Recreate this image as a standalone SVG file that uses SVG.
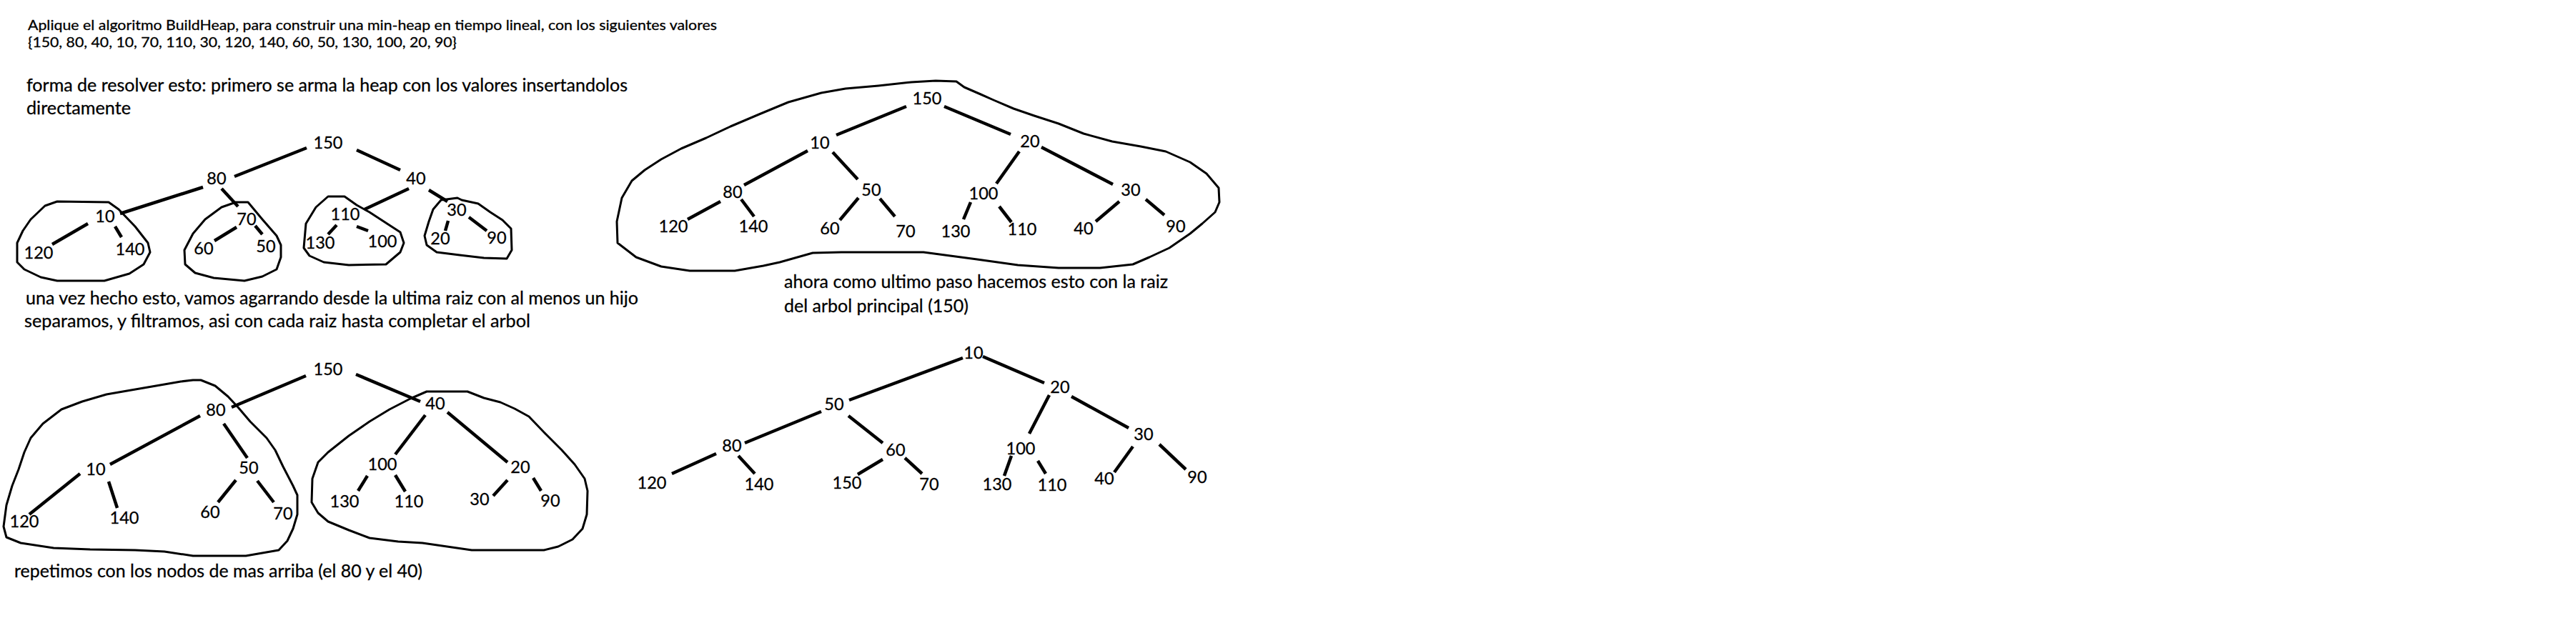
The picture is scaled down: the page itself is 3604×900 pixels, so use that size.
<svg xmlns="http://www.w3.org/2000/svg" width="3604" height="900" viewBox="0 0 3604 900">
<style>
text{font-family:Lato,"Open Sans","Liberation Sans",sans-serif;fill:#000;stroke:#000;stroke-width:0.3}
.n{font-size:23.5px;text-anchor:middle}
.h{font-size:20px}
.b{font-size:25px}
.e{stroke:#000;stroke-width:4.5;fill:none}
.g{stroke:#000;stroke-width:3;fill:none;stroke-linejoin:round}
</style>
<rect width="3604" height="900" fill="#fff"/>
<g id="texts">
<text class="h" x="39" y="42" textLength="964" lengthAdjust="spacingAndGlyphs">Aplique el algoritmo BuildHeap, para construir una min-heap en tiempo lineal, con los siguientes valores</text>
<text class="h" x="39" y="66" textLength="600" lengthAdjust="spacingAndGlyphs">{150, 80, 40, 10, 70, 110, 30, 120, 140, 60, 50, 130, 100, 20, 90}</text>
<text class="b" x="37" y="128" textLength="841" lengthAdjust="spacingAndGlyphs">forma de resolver esto: primero se arma la heap con los valores insertandolos</text>
<text class="b" x="37" y="160" textLength="146" lengthAdjust="spacingAndGlyphs">directamente</text>
<text class="b" x="36" y="426" textLength="857" lengthAdjust="spacingAndGlyphs">una vez hecho esto, vamos agarrando desde la ultima raiz con al menos un hijo</text>
<text class="b" x="34" y="458" textLength="708" lengthAdjust="spacingAndGlyphs">separamos, y filtramos, asi con cada raiz hasta completar el arbol</text>
<text class="b" x="20" y="808" textLength="571" lengthAdjust="spacingAndGlyphs">repetimos con los nodos de mas arriba (el 80 y el 40)</text>
<text class="b" x="1097" y="403" textLength="537" lengthAdjust="spacingAndGlyphs">ahora como ultimo paso hacemos esto con la raiz</text>
<text class="b" x="1097" y="437" textLength="258" lengthAdjust="spacingAndGlyphs">del arbol principal (150)</text>
</g>
<g id="outlines">
<path class="g" d="M80,282 L152,283 L166,293 L189,317 L207,340 L210,353 L201,370 L181,383 L146,393 L80,393 L57,388 L34,377 L24,367 L24,340 L32,323 L43,307 L63,288 Z"/>
<path class="g" d="M330,283 L347,283 L367,307 L387,330 L393,343 L393,360 L387,377 L367,387 L342,393 L299,389 L273,382 L259,370 L258,350 L270,327 L287,307 L310,290 Z"/>
<path class="g" d="M459,275 L482,275 L499,287 L517,297 L540,312 L560,325 L565,340 L560,353 L540,370 L488,371 L453,367 L433,358 L425,347 L428,313 L442,290 Z"/>
<path class="g" d="M617,280 L640,277 L646,280 L669,285 L686,297 L703,308 L715,320 L716,350 L709,362 L677,361 L643,357 L611,353 L597,343 L594,330 L600,310 L606,293 Z"/>
<path class="g" d="M270,532 L281,532 L301,540 L319,555 L333,570 L350,590 L373,613 L385,630 L396,653 L410,680 L416,693 L416,720 L410,740 L402,757 L390,770 L344,778 L270,778 L230,772 L189,770 L126,769 L75,767 L29,760 L9,752 L5,737 L9,707 L17,680 L26,657 L34,633 L43,613 L60,593 L86,573 L115,562 L149,552 L172,548 L201,543 L230,538 L253,534 Z"/>
<path class="g" d="M597,548 L654,548 L677,557 L700,563 L720,572 L740,583 L763,607 L786,630 L804,650 L818,670 L822,687 L821,720 L815,740 L801,755 L781,765 L761,770 L660,770 L591,760 L557,758 L517,753 L488,742 L459,730 L445,718 L436,703 L437,670 L445,647 L459,633 L488,610 L517,590 L545,573 L574,558 Z"/>
<path class="g" d="M1309,113 L1338,114 L1349,122 L1372,132 L1390,140 L1418,152 L1447,162 L1481,173 L1516,187 L1556,198 L1596,205 L1631,212 L1665,227 L1688,243 L1705,263 L1706,283 L1700,297 L1682,313 L1665,327 L1636,347 L1608,360 L1585,370 L1539,375 L1481,375 L1424,371 L1367,363 L1292,353 L1177,353 L1137,354 L1091,367 L1068,372 L1028,379 L965,379 L925,373 L890,360 L864,340 L863,310 L870,277 L884,253 L902,238 L925,223 L953,208 L988,193 L1022,177 L1062,160 L1103,143 L1149,130 L1183,124 L1229,120 L1275,115 Z"/>
</g>
<g id="connectors">
<line class="e" x1="429" y1="207" x2="328" y2="247"/>
<line class="e" x1="499" y1="210" x2="560" y2="238"/>
<line class="e" x1="284" y1="262" x2="168" y2="299"/>
<line class="e" x1="310" y1="264" x2="333" y2="289"/>
<line class="e" x1="572" y1="264" x2="510" y2="293"/>
<line class="e" x1="600" y1="266" x2="626" y2="282"/>
<line class="e" x1="123" y1="313" x2="73" y2="342"/>
<line class="e" x1="161" y1="317" x2="170" y2="332"/>
<line class="e" x1="331" y1="318" x2="300" y2="337"/>
<line class="e" x1="357" y1="316" x2="367" y2="328"/>
<line class="e" x1="471" y1="315" x2="459" y2="328"/>
<line class="e" x1="499" y1="317" x2="515" y2="323"/>
<line class="e" x1="627" y1="309" x2="623" y2="323"/>
<line class="e" x1="656" y1="304" x2="681" y2="323"/>

<line class="e" x1="428" y1="526" x2="324" y2="570"/>
<line class="e" x1="498" y1="524" x2="588" y2="562"/>
<line class="e" x1="280" y1="582" x2="154" y2="650"/>
<line class="e" x1="313" y1="593" x2="346" y2="641"/>
<line class="e" x1="595" y1="581" x2="553" y2="636"/>
<line class="e" x1="626" y1="577" x2="710" y2="647"/>
<line class="e" x1="112" y1="663" x2="41" y2="720"/>
<line class="e" x1="152" y1="674" x2="164" y2="711"/>
<line class="e" x1="330" y1="672" x2="305" y2="703"/>
<line class="e" x1="360" y1="673" x2="383" y2="703"/>
<line class="e" x1="514" y1="666" x2="501" y2="687"/>
<line class="e" x1="553" y1="665" x2="567" y2="688"/>
<line class="e" x1="710" y1="672" x2="690" y2="694"/>
<line class="e" x1="746" y1="669" x2="757" y2="687"/>

<line class="e" x1="1268" y1="149" x2="1170" y2="189"/>
<line class="e" x1="1321" y1="149" x2="1414" y2="188"/>
<line class="e" x1="1130" y1="211" x2="1041" y2="259"/>
<line class="e" x1="1165" y1="213" x2="1200" y2="251"/>
<line class="e" x1="1426" y1="212" x2="1394" y2="257"/>
<line class="e" x1="1457" y1="206" x2="1557" y2="258"/>
<line class="e" x1="1008" y1="282" x2="962" y2="307"/>
<line class="e" x1="1037" y1="279" x2="1055" y2="303"/>
<line class="e" x1="1201" y1="277" x2="1175" y2="308"/>
<line class="e" x1="1231" y1="278" x2="1252" y2="303"/>
<line class="e" x1="1358" y1="283" x2="1348" y2="307"/>
<line class="e" x1="1398" y1="289" x2="1415" y2="311"/>
<line class="e" x1="1566" y1="282" x2="1533" y2="310"/>
<line class="e" x1="1603" y1="279" x2="1629" y2="301"/>

<line class="e" x1="1347" y1="501" x2="1188" y2="560"/>
<line class="e" x1="1375" y1="499" x2="1461" y2="536"/>
<line class="e" x1="1149" y1="576" x2="1042" y2="620"/>
<line class="e" x1="1187" y1="582" x2="1235" y2="620"/>
<line class="e" x1="1468" y1="553" x2="1440" y2="607"/>
<line class="e" x1="1499" y1="555" x2="1579" y2="599"/>
<line class="e" x1="1002" y1="635" x2="940" y2="663"/>
<line class="e" x1="1033" y1="638" x2="1056" y2="663"/>
<line class="e" x1="1235" y1="643" x2="1200" y2="664"/>
<line class="e" x1="1266" y1="641" x2="1290" y2="663"/>
<line class="e" x1="1415" y1="638" x2="1405" y2="666"/>
<line class="e" x1="1452" y1="645" x2="1463" y2="663"/>
<line class="e" x1="1585" y1="625" x2="1559" y2="661"/>
<line class="e" x1="1622" y1="622" x2="1659" y2="657"/>
</g>
<g id="tree1">
<g id="t1-150"><text class="n" x="459" y="208">150</text></g>
<g id="t1-80"><text class="n" x="303" y="258">80</text></g>
<g id="t1-40"><text class="n" x="582" y="258">40</text></g>
<g id="t1-10"><text class="n" x="147" y="311">10</text></g>
<g id="t1-70"><text class="n" x="345" y="315">70</text></g>
<g id="t1-110"><text class="n" x="483" y="308">110</text></g>
<g id="t1-30"><text class="n" x="639" y="302">30</text></g>
<g id="t1-120"><text class="n" x="54" y="362">120</text></g>
<g id="t1-140"><text class="n" x="182" y="357">140</text></g>
<g id="t1-60"><text class="n" x="285" y="356">60</text></g>
<g id="t1-50"><text class="n" x="372" y="353">50</text></g>
<g id="t1-130"><text class="n" x="448" y="348">130</text></g>
<g id="t1-100"><text class="n" x="535" y="346">100</text></g>
<g id="t1-20"><text class="n" x="616" y="342">20</text></g>
<g id="t1-90"><text class="n" x="695" y="341">90</text></g>
</g>
<g id="tree3">
<g id="t3-150"><text class="n" x="459" y="525">150</text></g>
<g id="t3-80"><text class="n" x="302" y="582">80</text></g>
<g id="t3-40"><text class="n" x="609" y="573">40</text></g>
<g id="t3-10"><text class="n" x="134" y="665">10</text></g>
<g id="t3-50"><text class="n" x="348" y="663">50</text></g>
<g id="t3-100"><text class="n" x="535" y="658">100</text></g>
<g id="t3-20"><text class="n" x="728" y="662">20</text></g>
<g id="t3-120"><text class="n" x="34" y="738">120</text></g>
<g id="t3-140"><text class="n" x="174" y="733">140</text></g>
<g id="t3-60"><text class="n" x="294" y="725">60</text></g>
<g id="t3-70"><text class="n" x="396" y="727">70</text></g>
<g id="t3-130"><text class="n" x="482" y="710">130</text></g>
<g id="t3-110"><text class="n" x="572" y="710">110</text></g>
<g id="t3-30"><text class="n" x="671" y="707">30</text></g>
<g id="t3-90"><text class="n" x="770" y="709">90</text></g>
</g>
<g id="tree2">
<g id="t2-150"><text class="n" x="1297" y="146">150</text></g>
<g id="t2-10"><text class="n" x="1147" y="208">10</text></g>
<g id="t2-20"><text class="n" x="1441" y="206">20</text></g>
<g id="t2-80"><text class="n" x="1025" y="277">80</text></g>
<g id="t2-50"><text class="n" x="1219" y="274">50</text></g>
<g id="t2-100"><text class="n" x="1376" y="279">100</text></g>
<g id="t2-30"><text class="n" x="1582" y="274">30</text></g>
<g id="t2-120"><text class="n" x="942" y="325">120</text></g>
<g id="t2-140"><text class="n" x="1054" y="325">140</text></g>
<g id="t2-60"><text class="n" x="1161" y="328">60</text></g>
<g id="t2-70"><text class="n" x="1267" y="332">70</text></g>
<g id="t2-130"><text class="n" x="1337" y="332">130</text></g>
<g id="t2-110"><text class="n" x="1430" y="329">110</text></g>
<g id="t2-40"><text class="n" x="1516" y="328">40</text></g>
<g id="t2-90"><text class="n" x="1645" y="325">90</text></g>
</g>
<g id="tree4">
<g id="t4-10"><text class="n" x="1362" y="502">10</text></g>
<g id="t4-20"><text class="n" x="1483" y="550">20</text></g>
<g id="t4-50"><text class="n" x="1167" y="574">50</text></g>
<g id="t4-30"><text class="n" x="1600" y="616">30</text></g>
<g id="t4-80"><text class="n" x="1024" y="632">80</text></g>
<g id="t4-60"><text class="n" x="1253" y="638">60</text></g>
<g id="t4-100"><text class="n" x="1428" y="636">100</text></g>
<g id="t4-120"><text class="n" x="912" y="684">120</text></g>
<g id="t4-140"><text class="n" x="1062" y="686">140</text></g>
<g id="t4-150"><text class="n" x="1185" y="684">150</text></g>
<g id="t4-70"><text class="n" x="1300" y="686">70</text></g>
<g id="t4-130"><text class="n" x="1395" y="686">130</text></g>
<g id="t4-110"><text class="n" x="1472" y="687">110</text></g>
<g id="t4-40"><text class="n" x="1545" y="678">40</text></g>
<g id="t4-90"><text class="n" x="1675" y="676">90</text></g>
</g>
</svg>
